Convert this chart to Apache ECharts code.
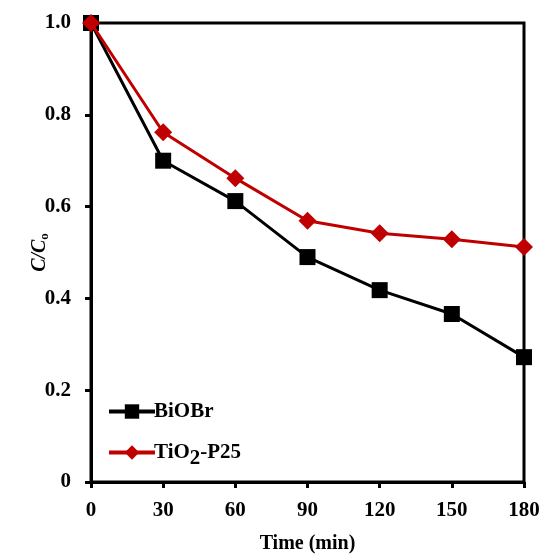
<!DOCTYPE html>
<html>
<head>
<meta charset="utf-8">
<script src="https://cdn.jsdelivr.net/npm/echarts@6/dist/echarts.min.js"></script>
<style>
  html, body { margin: 0; padding: 0; background: #fff; }
  #chart { width: 544px; height: 554px; }
</style>
</head>
<body>
<div id="chart"></div>
<script>
var times = [0, 30, 60, 90, 120, 150, 180];
var biobr = [1.0, 0.70, 0.612, 0.49, 0.418, 0.366, 0.272];
var tio2 = [1.0, 0.762, 0.662, 0.569, 0.542, 0.529, 0.512];

function pairs(ys) {
  return times.map(function (t, i) { return [t, ys[i]]; });
}

var chart = echarts.init(document.getElementById('chart'));
var serif = '"Liberation Serif", "Times New Roman", serif';

var option = {
  animation: false,
  grid: {
    left: 91, right: 20, top: 23, bottom: 72,
    outerBoundsMode: 'none',
    containLabel: false,
    show: true,
    borderColor: '#000',
    borderWidth: 3
  },
  legend: {
    orient: 'vertical',
    left: 102,
    top: 396,
    itemWidth: 46,
    itemHeight: 18,
    itemGap: 20,
    lineStyle: { width: 4 },
    textStyle: {
      fontFamily: serif, fontSize: 21, fontWeight: 'bold', color: '#000', padding: [0, 0, 0, -6],
      rich: {
        n: { fontFamily: serif, fontSize: 21, fontWeight: 'bold', color: '#000' },
        s: { fontFamily: serif, fontSize: 21, fontWeight: 'bold', color: '#000', verticalAlign: 'bottom', padding: [12, 0, 0, 0] }
      }
    },
    formatter: function (name) {
      if (name === 'TiO2-P25') return '{n|TiO}{s|2}{n|-P25}';
      return '{n|' + name + '}';
    },
    data: ['BiOBr', 'TiO2-P25']
  },
  xAxis: {
    type: 'value',
    min: 0, max: 180, interval: 30,
    name: 'Time (min)',
    nameLocation: 'middle',
    nameGap: 52,
    nameMoveOverlap: false,
    nameTextStyle: { fontFamily: serif, fontSize: 20, fontWeight: 'bold', color: '#000' },
    axisLine: { lineStyle: { color: '#000', width: 3 } },
    axisTick: { show: true, length: 6, lineStyle: { color: '#000', width: 3 } },
    axisLabel: { fontFamily: serif, fontSize: 21, fontWeight: 'bold', color: '#000', margin: 18 },
    splitLine: { show: false }
  },
  yAxis: {
    type: 'value',
    min: 0, max: 1.0, interval: 0.2,
    name: '{i|C/C}{s|o}',
    nameLocation: 'middle',
    nameRotate: 90,
    nameGap: 40,
    nameMoveOverlap: false,
    nameTextStyle: {
      rich: {
        i: { fontFamily: serif, fontSize: 20, fontWeight: 'bold', fontStyle: 'italic', color: '#000' },
        s: { fontFamily: serif, fontSize: 13, fontWeight: 'bold', color: '#000', verticalAlign: 'bottom', padding: [9, 0, 0, 0] }
      }
    },
    axisLine: { show: true, lineStyle: { color: '#000', width: 3 } },
    axisTick: { show: true, length: 6, lineStyle: { color: '#000', width: 3 } },
    axisLabel: {
      fontFamily: serif, fontSize: 21, fontWeight: 'bold', color: '#000', margin: 20,
      formatter: function (v) { return v === 0 ? '0' : v.toFixed(1); }
    },
    splitLine: { show: false }
  },
  series: [
    {
      name: 'BiOBr',
      type: 'line',
      data: pairs(biobr),
      symbol: 'rect',
      symbolSize: 16,
      itemStyle: { color: '#000' },
      lineStyle: { color: '#000', width: 3 },
      z: 2
    },
    {
      name: 'TiO2-P25',
      type: 'line',
      data: pairs(tio2),
      symbol: 'diamond',
      symbolSize: 18,
      itemStyle: { color: '#c00000' },
      lineStyle: { color: '#c00000', width: 3 },
      z: 3
    }
  ]
};
chart.setOption(option);
</script>
</body>
</html>
